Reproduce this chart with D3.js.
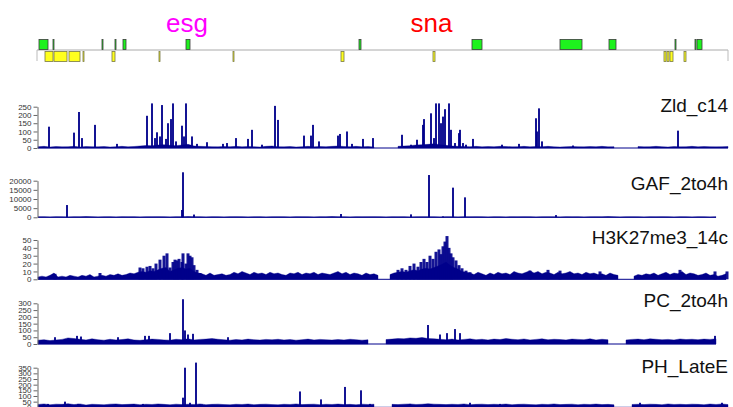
<!DOCTYPE html>
<html>
<head>
<meta charset="utf-8">
<script src="https://cdn.jsdelivr.net/npm/d3@7"></script>
<style>
  body { margin: 0; background: #fff; }
  svg { display: block; font-family: "Liberation Sans", Arial, sans-serif; }
</style>
</head>
<body>
<div id="chart"></div>
<script>
/* Genome browser view: esg .. sna region, 5 ChIP tracks */

// gene models, positions in kb from region start
const geneLabels = [["esg", 149], ["sna", 393.5]];
const greenExons = [[1,10],[15,16],[64,65],[77,78],[85,88],[148,152],[321,323],
  [434,444],[522,544],[571,578],[637,638],[657,658],[659,664]];
const yellowExons = [[7,15],[16,29],[31,42],[45,46],[74,77],[121,122],[195,196],
  [303,306],[395,397],[626,628],[629,631],[632,635],[646,648]];
const regionEnd = 690;

// --- Zld_c14 ---
const zldTicks = [0, 50, 100, 150, 200, 250];
const zldBg = [8,10,6,9,7,8,10,6,9,8, 7,9,6,8,10,7,9,12,15,14, 18,20,16,14,18,22,12,10,9,8,
  7,9,8,10,7,9,8,6,10,12, 8,7,9,6,8,10,7,9,8,10, 12,9,8,10,7,9,6,null,null,null,
  10,12,14,18,20,22,25,20,16,12, 10,9,8,10,7,9,8,10,9,7, 8,10,7,9,8,10,7,6,8,9,
  8,7,9,8,10,7,8,null,null,null, 9,7,8,10,8,6,9,7,8,10,7,9,8,7,8,9];
const zldPeaks = [[11,129],[36,93],[41,218],[44,60],[57,140],[79,25],[109,195],[114,270],
  [117,60],[119,95],[122,70],[124,260],[128,55],[130,150],[133,175],[135,270],[138,40],
  [144,135],[146,70],[148,270],[154,70],[159,25],[169,35],[185,25],[189,30],[198,60],
  [210,55],[214,110],[224,20],[237,255],[240,170],[266,75],[273,75],[275,140],[281,40],
  [300,75],[302,85],[309,100],[314,25],[325,55],[335,60],[364,80],[373,20],[379,50],
  [385,140],[386,175],[393,210],[396,60],[398,270],[401,270],[403,150],[405,190],
  [407,235],[411,270],[413,110],[417,30],[421,90],[422,110],[425,30],[428,20],[435,55],
  [464,20],[481,25],[498,180],[499,100],[501,240],[504,40],[535,15],[640,105]];

// --- GAF_2to4h ---
const gafTicks = [0, 5000, 10000, 15000, 20000];
const gafBg = [250,300,200,350,250,200,300,250,400,300, 200,250,300,200,350,250,300,200,250,300,
  350,250,200,300,250,400,300,250,200,300, 250,200,300,350,250,200,250,300,200,250,
  300,250,200,350,300,250,200,300,250,400, 300,250,200,300,250,300,350,250,200,300,
  250,300,200,250,350,300,250,200,300,250, 200,300,250,350,250,200,300,250,200,300,
  250,350,300,200,250,300,250,200,350,250, 300,200,250,300,250,400,300,200,250,300,
  250,200,300,250,350,250,200,300,250,200, 300,250,200,250];
const gafPeaks = [[29,6700],[144,4000],[145,24600],[156,1500],[303,1800],[373,1600],
  [391,23100],[405,500],[415,16200],[427,10900],[518,1200]];

// --- H3K27me3_14c ---
const h3Ticks = [0, 10, 20, 30, 40, 50];
const h3Bg = [3,4,3,5,8,3,4,3,5,4, 3,5,4,6,3,4,5,4,6,5, 7,5,6,8,7,9,10,9,11,10,
  12,14,15,10,12,14,15,13,14,10, 8,7,5,8,5,6,7,5,6,9, 7,10,8,6,9,7,8,6,9,7,
  8,6,5,8,7,9,6,8,7,9, 6,8,7,6,8,10,7,9,6,8, 7,5,8,6,7,5,null,null,6,8,
  9,10,9,11,12,11,13,14,13,15, 17,19,22,18,15,13,10,9,8,6, 9,7,5,8,6,9,7,8,6,10,
  8,7,9,11,8,10,7,9,8,6, 9,7,8,10,7,8,6,9,7,8, 6,7,5,8,6,5,null,null,null,4,
  6,5,7,6,8,5,7,9,6,8, 7,10,6,8,7,5,6,8,5,6, 4,5,7];
const h3Peaks = [[17,7],[62,8],[102,15],[105,14],[109,16],[112,17],[115,14],[118,20],
  [122,25],[126,30],[129,33],[132,15],[135,22],[137,25],[139,24],[141,26],[144,22],
  [145,33],[148,20],[150,33],[152,30],[154,28],[156,18],[159,12],[162,8],
  [360,12],[364,14],[368,12],[372,17],[376,20],[380,16],[383,22],[386,26],[389,22],
  [392,30],[395,26],[398,35],[401,38],[403,32],[405,42],[407,48],[409,55],[411,40],
  [413,33],[415,28],[418,24],[421,18],[424,14],[428,11],[432,9],
  [492,11],[510,12],[522,11],[562,10],[642,12],[677,10],[689,10]];

// --- PC_2to4h ---
const pcTicks = [0, 50, 100, 150, 200, 250, 300];
const pcBg = [28,32,25,30,34,45,40,35,30,38, 32,28,35,30,33,38,30,27,32,36,
  34,30,28,35,32,38,30,34,36,40, 35,31,28,33,30,36,32,29,34,31,
  35,30,33,28,32,36,30,34,31,29, 33,30,35,32,28,31,null,null,33,36,
  40,38,45,42,48,40,38,35,32,36, 30,34,38,32,35,30,36,33,40,35,
  32,37,30,34,38,31,35,33,30,36, 34,32,38,30,35,31,null,null,30,34,
  36,32,38,35,31,34,30,37,33,35, 32,36,34,38];
const pcPeaks = [[17,50],[39,60],[43,55],[80,50],[107,60],[111,60],[132,80],[145,330],
  [147,100],[150,70],[155,75],[190,50],[390,140],[402,70],[409,80],[417,110],[422,80],[677,60]];

// --- PH_LateE ---
const phTicks = [0, 50, 100, 150, 200, 250, 300, 350];
const phBg = [25,30,22,28,26,32,24,30,20,27, 25,22,28,30,24,26,29,23,27,25,
  30,26,22,28,24,27,25,30,23,26, 28,24,22,27,25,29,23,26,28,24,
  22,27,25,30,24,26,28,23,27,25, 29,24,26,22,28,25,27,null,null,26,
  24,28,30,25,27,32,28,26,24,27, 25,30,23,26,28,24,27,25,29,23,
  26,28,24,22,27,25,30,24,26,28, 23,27,25,29,24,26,22,null,null,25,
  27,24,28,26,23,30,25,27,24,28, 26,23,29,25,30,24];
const phPeaks = [[10,30],[27,50],[40,30],[105,30],[145,85],[147,350],[152,40],[158,395],
  [164,25],[262,140],[283,70],[307,180],[323,150],[332,30],[372,30],[432,40],[462,30],
  [602,40],[684,40]];

const W = 733, H = 407;
const navy = "#00008b";

const x = d3.scaleLinear().domain([0, regionEnd]).range([38, 728]);

const svg = d3.select("#chart").append("svg")
  .attr("width", W)
  .attr("height", H);

// ---------- gene track ----------
const gene = svg.append("g").attr("class", "genes");
const lineY = 50;

gene.append("line")
  .attr("x1", x(-1)).attr("x2", x(regionEnd))
  .attr("y1", lineY).attr("y2", lineY)
  .attr("stroke", "#aaa").attr("stroke-width", 1);
gene.selectAll("line.end")
  .data([-1, regionEnd])
  .join("line")
  .attr("class", "end")
  .attr("x1", d => x(d)).attr("x2", d => x(d))
  .attr("y1", lineY).attr("y2", lineY + 11)
  .attr("stroke", "#bbb");

gene.selectAll("rect.green")
  .data(greenExons)
  .join("rect")
  .attr("class", "green")
  .attr("x", d => x(d[0]))
  .attr("width", d => Math.max(1, x(d[1]) - x(d[0])))
  .attr("y", lineY - 10.5)
  .attr("height", 10)
  .attr("fill", "#1ef21e")
  .attr("stroke", "#3a3a3a")
  .attr("stroke-width", 0.8);

gene.selectAll("rect.yellow")
  .data(yellowExons)
  .join("rect")
  .attr("class", "yellow")
  .attr("x", d => x(d[0]))
  .attr("width", d => Math.max(1, x(d[1]) - x(d[0])))
  .attr("y", lineY + 1.5)
  .attr("height", 10)
  .attr("fill", "#ffff1e")
  .attr("stroke", "#777744")
  .attr("stroke-width", 0.8);

gene.selectAll("text")
  .data(geneLabels)
  .join("text")
  .attr("x", d => x(d[1]))
  .attr("y", 32)
  .attr("text-anchor", "middle")
  .attr("font-size", 26)
  .attr("fill", d => d[0] === "esg" ? "#ff00ff" : "#ff0000")
  .text(d => d[0]);

// ---------- signal tracks ----------
const tracks = [
  { name: "Zld_c14",      bg: zldBg, bin: 6, peaks: zldPeaks, ticks: zldTicks, y0: 148,   y1: 106.7, ly: 111.5, pw: 2 },
  { name: "GAF_2to4h",    bg: gafBg, bin: 6, peaks: gafPeaks, ticks: gafTicks, y0: 217.3, y1: 180.7, ly: 190,   pw: 2 },
  { name: "H3K27me3_14c", bg: h3Bg,  bin: 4, peaks: h3Peaks,  ticks: h3Ticks,  y0: 279.3, y1: 240,   ly: 244,   pw: 3 },
  { name: "PC_2to4h",     bg: pcBg,  bin: 6, peaks: pcPeaks,  ticks: pcTicks,  y0: 344,   y1: 303.3, ly: 306.7, pw: 2 },
  { name: "PH_LateE",     bg: phBg,  bin: 6, peaks: phPeaks,  ticks: phTicks,  y0: 407.3, y1: 367.7, ly: 373,   pw: 2 }
];

tracks.forEach(t => {
  const g = svg.append("g").attr("class", "track");
  const y = d3.scaleLinear()
    .domain([0, t.ticks[t.ticks.length - 1]])
    .range([t.y0, t.y1]);

  const pts = t.bg.map((v, i) => ({ pos: i * t.bin, v: v }));
  const lastPos = pts[pts.length - 1].pos;

  // baseline runs across gaps
  g.append("line")
    .attr("x1", x(0)).attr("x2", x(lastPos))
    .attr("y1", y(0)).attr("y2", y(0))
    .attr("stroke", navy).attr("stroke-width", 1);

  const area = d3.area()
    .defined(d => d.v != null)
    .x(d => x(d.pos))
    .y0(y(0))
    .y1(d => y(d.v))
    .curve(d3.curveLinear);

  g.append("path")
    .datum(pts)
    .attr("d", area)
    .attr("fill", navy)
    .attr("stroke", navy)
    .attr("stroke-width", 0.4);

  g.selectAll("rect.peak")
    .data(t.peaks)
    .join("rect")
    .attr("class", "peak")
    .attr("x", d => x(d[0]) - t.pw / 2)
    .attr("width", t.pw)
    .attr("y", d => y(d[1]))
    .attr("height", d => y(0) - y(d[1]))
    .attr("fill", navy)
    .attr("fill-opacity", 0.92);

  const ax = g.append("g")
    .attr("transform", "translate(37.5,0)")
    .call(d3.axisLeft(y).tickValues(t.ticks).tickFormat(d3.format("d"))
      .tickSize(4).tickPadding(2).tickSizeOuter(0));
  ax.select(".domain").attr("stroke", "#666");
  ax.selectAll(".tick line").attr("stroke", "#666");
  ax.selectAll(".tick text")
    .attr("fill", "#333")
    .attr("font-size", 8)
    .attr("font-family", "'Liberation Sans', Arial, sans-serif");

  g.append("text")
    .attr("x", 728)
    .attr("y", t.ly)
    .attr("text-anchor", "end")
    .attr("font-size", 19)
    .attr("fill", "#111")
    .text(t.name);
});
</script>
</body>
</html>
